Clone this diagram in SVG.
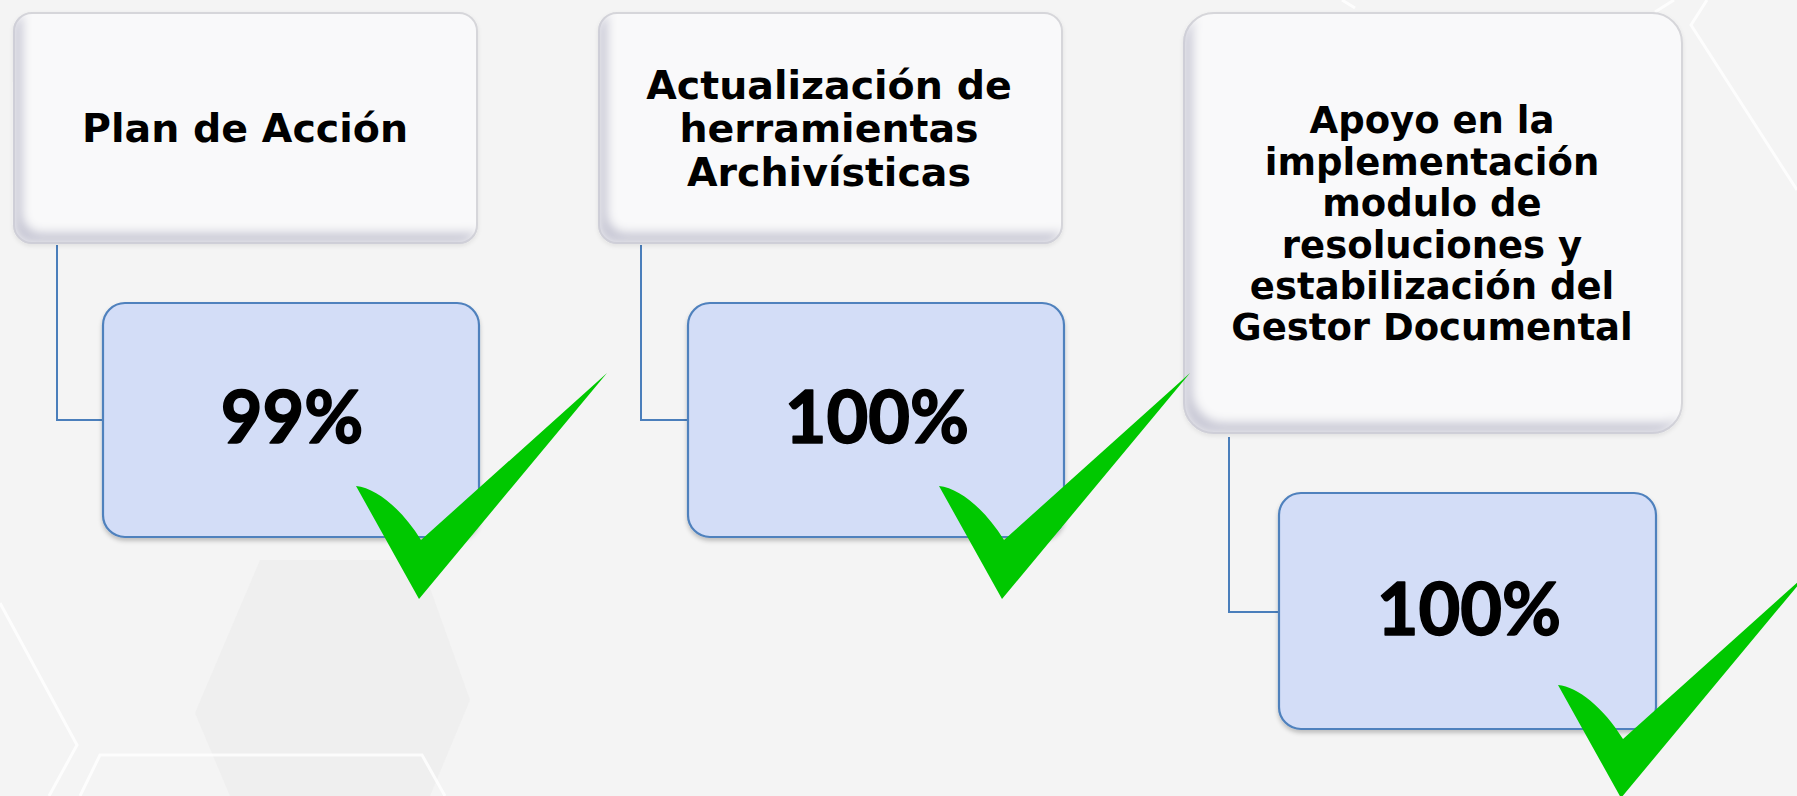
<svg xmlns="http://www.w3.org/2000/svg" width="1797" height="796" viewBox="0 0 1797 796">
<style>
.title{font-family:"DejaVu Sans","Verdana",sans-serif;font-weight:bold;fill:#000;text-anchor:middle}
.pct{font-family:Lato,"Open Sans",sans-serif;font-weight:700;font-size:72px;fill:#000;stroke:#000;stroke-width:1.6;stroke-linejoin:round;text-anchor:middle}
.wbox{fill:#f9f9fa;stroke:#d6d6da;stroke-width:2}
.bbox{fill:#d3ddf7;stroke:#4f81bd;stroke-width:2.2}
.conn{fill:none;stroke:#4a7ebb;stroke-width:2}
.chk{fill:#00c800}
.bgl{fill:none;stroke:#ffffff;stroke-width:3;opacity:0.8}
</style>
<defs>
<filter id="bevel" x="-5%" y="-5%" width="110%" height="115%">
<feOffset in="SourceAlpha" dx="10" dy="-12" result="o"/>
<feComposite in="SourceAlpha" in2="o" operator="out" result="edge"/>
<feGaussianBlur in="edge" stdDeviation="5" result="b"/>
<feFlood flood-color="#c9c9d6" result="c"/>
<feComposite in="c" in2="b" operator="in" result="cs"/>
<feComposite in="cs" in2="SourceAlpha" operator="in" result="inner"/>
<feGaussianBlur in="SourceAlpha" stdDeviation="2" result="sb"/>
<feOffset in="sb" dx="0" dy="2" result="so"/>
<feFlood flood-color="#000" flood-opacity="0.08"/>
<feComposite in2="so" operator="in" result="shadow"/>
<feMerge><feMergeNode in="shadow"/><feMergeNode in="SourceGraphic"/><feMergeNode in="inner"/></feMerge>
</filter>
<filter id="bshadow" x="-5%" y="-5%" width="110%" height="115%">
<feGaussianBlur in="SourceAlpha" stdDeviation="2" result="sb"/>
<feOffset in="sb" dx="0" dy="3" result="so"/>
<feFlood flood-color="#000" flood-opacity="0.22"/>
<feComposite in2="so" operator="in" result="shadow"/>
<feMerge><feMergeNode in="shadow"/><feMergeNode in="SourceGraphic"/></feMerge>
</filter>
<path id="check" d="M0,0 C20,2 45,22 65,54 L251,-113 L63,113 Z"/>
</defs>

<rect x="0" y="0" width="1797" height="796" fill="#f4f4f4"/>
<g id="background">
<polygon points="195,713 260,560 420,560 470,700 430,796 230,796" fill="#ebebeb" opacity="0.55"/>
<polyline class="bgl" points="0,603 77,745 49,796"/>
<polyline class="bgl" points="80,796 100,755 422,755 445,796"/>
<polyline class="bgl" points="1674,0 1655,12"/>
<polyline class="bgl" points="1707,0 1691,25 1797,190"/>
<polyline class="bgl" points="1342,0 1355,8"/>
</g>

<g id="connectors">
<path class="conn" d="M57,245 V420 H103"/>
<path class="conn" d="M641,245 V420 H688"/>
<path class="conn" d="M1229,437 V612 H1279"/>
</g>

<g id="node-plan">
<rect class="wbox" x="14" y="13" width="463" height="230" rx="18" filter="url(#bevel)"/>
<text class="title" x="245" y="142" font-size="39.5">Plan de Acción</text>
</g>

<g id="node-actualizacion">
<rect class="wbox" x="599" y="13" width="463" height="230" rx="18" filter="url(#bevel)"/>
<text class="title" font-size="39.5"><tspan x="829" y="98.5">Actualización de</tspan><tspan x="829" y="142">herramientas</tspan><tspan x="829" y="185.5">Archivísticas</tspan></text>
</g>

<g id="node-apoyo">
<rect class="wbox" x="1184" y="13" width="498" height="420" rx="30" filter="url(#bevel)"/>
<text class="title" font-size="37"><tspan x="1432" y="133">Apoyo en la</tspan><tspan x="1432" y="174.5">implementación</tspan><tspan x="1432" y="216">modulo de</tspan><tspan x="1432" y="257.5">resoluciones y</tspan><tspan x="1432" y="299">estabilización del</tspan><tspan x="1432" y="340">Gestor Documental</tspan></text>
</g>

<g id="node-pct1">
<rect class="bbox" x="103" y="303" width="376" height="234" rx="22" filter="url(#bshadow)"/>
<text class="pct" x="292" y="443">99%</text>
</g>

<g id="node-pct2">
<rect class="bbox" x="688" y="303" width="376" height="234" rx="22" filter="url(#bshadow)"/>
<text class="pct" x="877" y="443">100%</text>
</g>

<g id="node-pct3">
<rect class="bbox" x="1279" y="493" width="377" height="236" rx="22" filter="url(#bshadow)"/>
<text class="pct" x="1469" y="635">100%</text>
</g>

<g id="checks">
<use href="#check" class="chk" transform="translate(356,486)"/>
<use href="#check" class="chk" transform="translate(939,486)"/>
<use href="#check" class="chk" transform="translate(1558,685)"/>
</g>
</svg>
